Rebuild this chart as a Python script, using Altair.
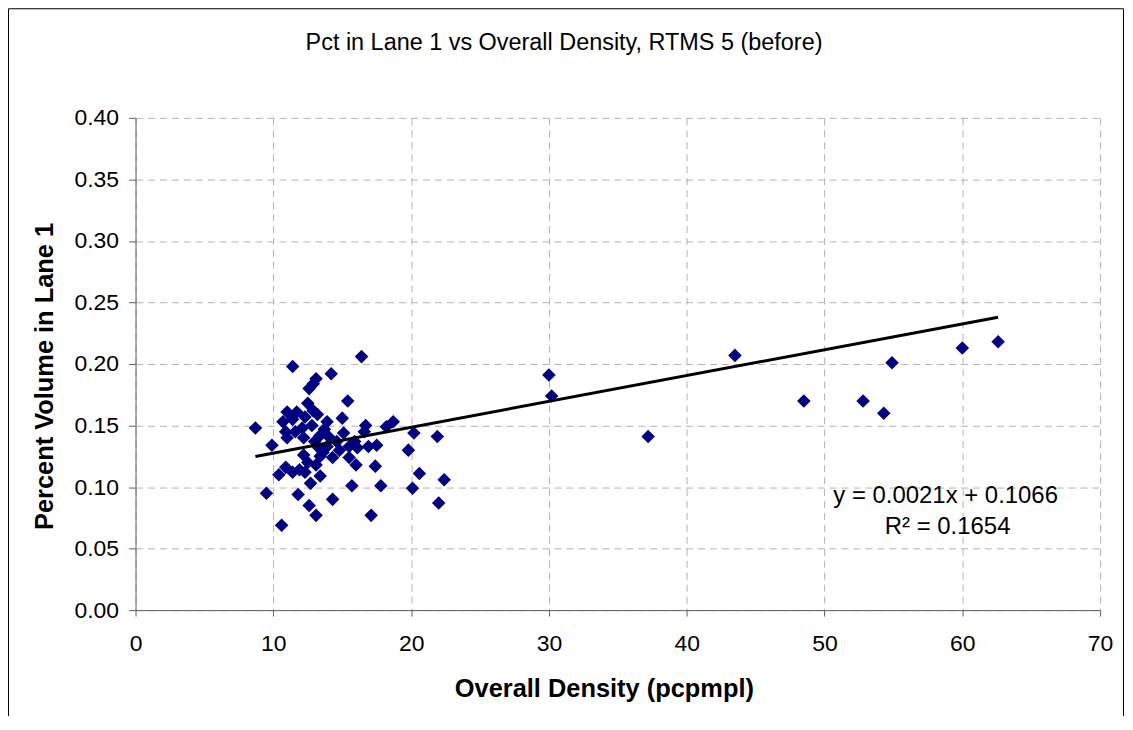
import altair as alt
import pandas as pd

# ---- data ----
density = [16.4, 11.4, 14.2, 13.1, 12.9, 12.6, 12.5, 15.4, 8.7, 11.0,
           11.7, 10.7, 11.4, 12.3, 13.2, 13.9, 15.0, 16.7, 18.7, 18.2,
           10.9, 12.1, 11.0, 12.2, 13.4, 14.0, 15.1, 9.9, 13.3, 13.9,
           15.5, 16.1, 16.9, 17.5, 19.8, 12.2, 13.4, 14.3, 15.5, 16.0,
           17.4, 13.1, 10.9, 11.9, 10.4, 11.4, 12.3, 13.4, 12.7, 15.7,
           17.8, 20.1, 9.5, 11.8, 14.3, 12.6, 13.1, 17.1, 10.6, 20.2,
           21.9, 20.6, 22.4, 22.0, 12.8, 13.0, 14.6, 13.6, 12.5, 14.8,
           11.6, 16.6, 13.7, 12.9, 15.9,
           30.0, 30.2, 37.2, 43.5, 48.5, 52.8, 54.3, 54.9, 60.0, 62.6]
pct = [0.206, 0.198, 0.192, 0.188, 0.184, 0.180, 0.168, 0.170, 0.148, 0.161,
       0.161, 0.153, 0.155, 0.157, 0.159, 0.153, 0.156, 0.150, 0.153, 0.149,
       0.145, 0.148, 0.140, 0.140, 0.142, 0.141, 0.144, 0.134, 0.132, 0.133,
       0.133, 0.132, 0.133, 0.134, 0.130, 0.126, 0.125, 0.124, 0.124, 0.118,
       0.117, 0.118, 0.116, 0.114, 0.110, 0.112, 0.112, 0.109, 0.103, 0.101,
       0.101, 0.099, 0.095, 0.094, 0.090, 0.085, 0.077, 0.077, 0.069, 0.144,
       0.141, 0.111, 0.106, 0.087, 0.150, 0.137, 0.137, 0.128, 0.120, 0.130,
       0.145, 0.145, 0.147, 0.162, 0.137,
       0.191, 0.174, 0.141, 0.207, 0.170, 0.170, 0.160, 0.201, 0.213, 0.218]

slope = 0.0021
intercept = 0.1066
r_squared = 0.1654

chart_title = "Pct in Lane 1 vs Overall Density, RTMS 5 (before)"
x_title = "Overall Density (pcpmpl)"
y_title = "Percent Volume in Lane 1"
x_ticks = [0, 10, 20, 30, 40, 50, 60, 70]
y_ticks = [0.0, 0.05, 0.10, 0.15, 0.20, 0.25, 0.30, 0.35, 0.40]

FONT = "Liberation Sans"

pts = pd.DataFrame({"density": density, "pct": pct})
xmin, xmax = min(density), max(density)
trend = pd.DataFrame({
    "density": [xmin, xmax],
    "pct": [intercept + slope * xmin, intercept + slope * xmax],
})
one = pd.DataFrame({"k": [0]})

x_enc = alt.X(
    "density:Q",
    scale=alt.Scale(domain=[0, 70], nice=False, zero=False),
    axis=alt.Axis(
        values=x_ticks, title=x_title, grid=True, labelFlush=False,
        titleX=470, titleY=79, titleBaseline="middle", titleAlign="center",
        labelPadding=17,
    ),
)
y_enc = alt.Y(
    "pct:Q",
    scale=alt.Scale(domain=[0, 0.4], nice=False),
    axis=alt.Axis(
        values=y_ticks, format=".2f", title=y_title, grid=True,
        titleX=-91, titleY=259, titleAngle=270, titleBaseline="middle",
        titleAlign="center", tickSize=7, labelPadding=10, labelFlush=False,
    ),
)

points = alt.Chart(pts).mark_point(
    shape="diamond", filled=True, color="#000080", size=185, opacity=1, strokeWidth=0
).encode(x=x_enc, y=y_enc)

line = alt.Chart(trend).mark_line(color="black", strokeWidth=3).encode(
    x="density:Q", y="pct:Q"
)

eq1 = alt.Chart(one).mark_text(
    text=f"y = {slope:.4f}x + {intercept:.4f}", fontSize=24, font=FONT,
    color="black", align="center", baseline="middle",
).encode(x=alt.value(813), y=alt.value(380))

eq2 = alt.Chart(one).mark_text(
    text=f"R² = {r_squared:.4f}", fontSize=24, font=FONT,
    color="black", align="center", baseline="middle",
).encode(x=alt.value(815), y=alt.value(411))

title = alt.Chart(one).mark_text(
    text=chart_title, fontSize=23.5, font=FONT, color="black",
    align="center", baseline="middle",
).encode(x=alt.value(430), y=alt.value(-75))

frame = alt.Chart(one).mark_rect(
    fillOpacity=0, stroke="black", strokeWidth=1
).encode(
    x=alt.value(-127.5), x2=alt.value(991.5),
    y=alt.value(-109.5), y2=alt.value(700),
)

chart = alt.layer(points, line, eq1, eq2, title, frame).properties(
    width=968, height=494,
    autosize=alt.AutoSizeParams(type="none"),
    padding={"left": 128, "top": 109, "right": 25, "bottom": 105},
).configure_view(
    stroke=None
).configure_axis(
    labelFont=FONT, labelFontSize=23, labelColor="black",
    titleFont=FONT, titleFontSize=25.5, titleFontWeight="bold", titleColor="black",
    domainColor="#606060", tickColor="#606060", tickSize=6,
    gridColor="#b4b4b4", gridDash=[7, 5], gridWidth=1,
)

chart.save("out.html", embed_options={"renderer": "svg", "actions": False})
